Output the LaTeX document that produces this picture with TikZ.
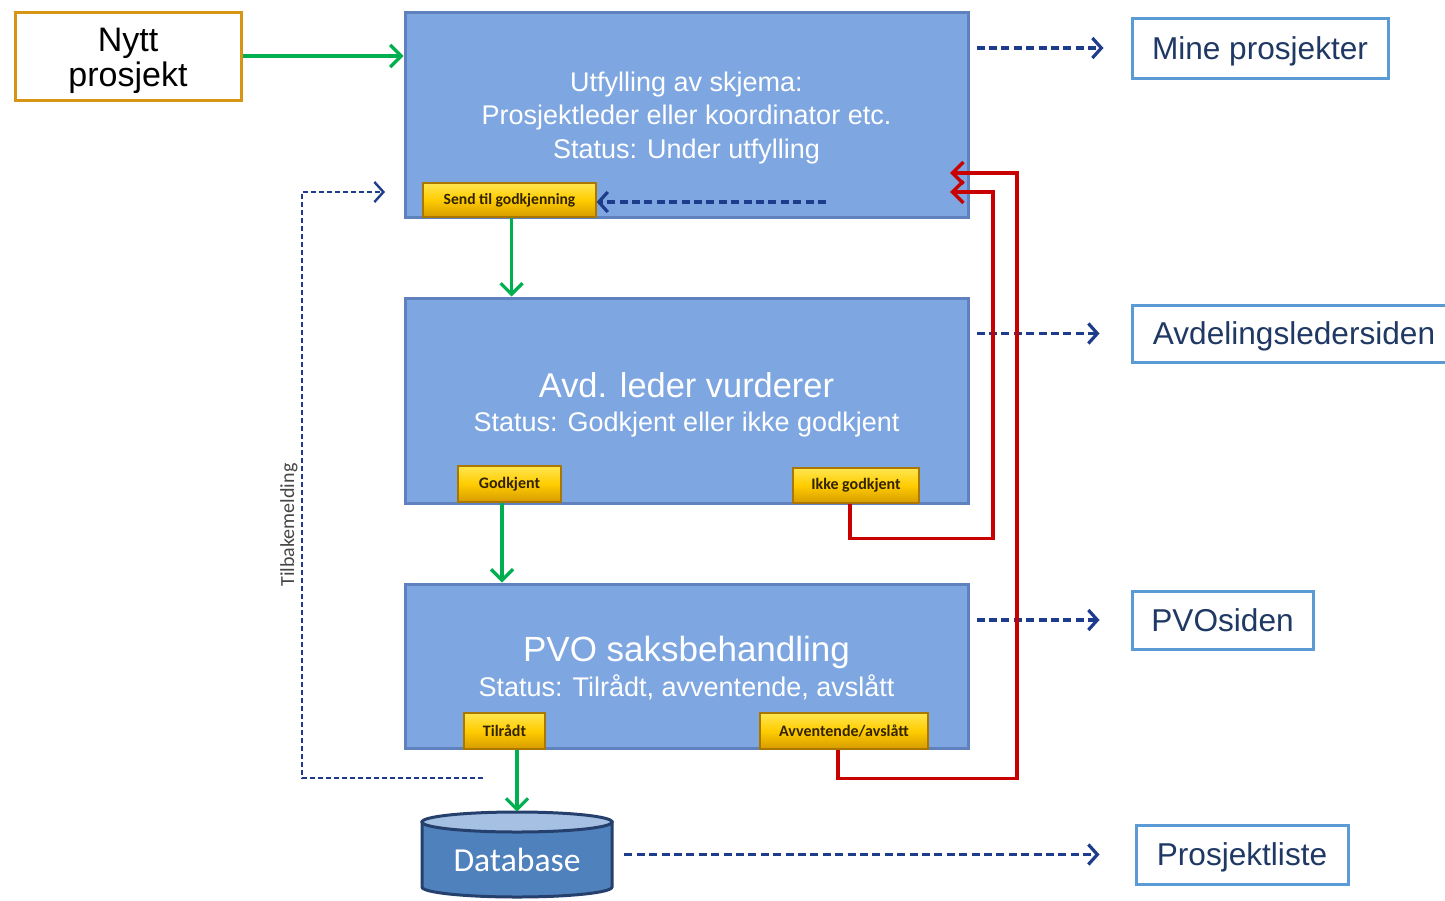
\documentclass[tikz,border=0pt]{standalone}
\usepackage{fontspec}
\setmainfont{Liberation Sans}
\newfontfamily\carlito{Carlito}
\usetikzlibrary{arrows.meta,calc}
\definecolor{boxfill}{RGB}{126,166,224}
\definecolor{boxline}{RGB}{95,130,190}
\definecolor{navy}{RGB}{30,60,140}
\definecolor{rtext}{RGB}{31,56,100}
\definecolor{rline}{RGB}{91,155,213}
\definecolor{orng}{RGB}{214,150,20}
\definecolor{grn}{RGB}{0,176,80}
\definecolor{redd}{RGB}{200,0,0}
\definecolor{dbbody}{RGB}{79,129,189}
\definecolor{dbtop}{RGB}{165,192,226}
\definecolor{dbline}{RGB}{38,64,110}
\definecolor{btop}{RGB}{255,230,80}
\definecolor{bmid}{RGB}{255,204,0}
\definecolor{bbot}{RGB}{215,155,0}
\definecolor{bline}{RGB}{170,120,0}
\definecolor{btext}{RGB}{50,35,0}
\definecolor{tbgray}{RGB}{70,70,70}
\begin{document}
\begin{tikzpicture}[x=0.5pt,y=-0.5pt,
  procbox/.style={draw=boxline, fill=boxfill, line width=1.5pt, inner sep=0pt},
  wt/.style={text=white, inner sep=0pt, anchor=base},
  btn/.style={draw=bline, line width=0.6pt, top color=btop, bottom color=bbot, middle color=bmid,
     text=btext, inner sep=0pt, font=\carlito\bfseries\fontsize{8}{9}\selectfont},
  pagebox/.style={draw=rline, line width=1.5pt, fill=white, text=rtext, inner sep=0pt,
     text depth=0pt, font=\fontsize{15.8}{18}\selectfont},
  garr/.style={draw=grn, line width=1.6pt, -{Straight Barb[length=5.5pt,width=11pt]}},
  darr/.style={draw=navy, line width=1.6pt, dash pattern=on 4pt off 2.2pt, -{Straight Barb[length=4.5pt,width=10pt]}},
  rarr/.style={draw=redd, line width=1.7pt, -{Straight Barb[length=5.5pt,width=11pt]}},
  tbline/.style={draw=navy, line width=1.2pt, dash pattern=on 2.5pt off 1.5pt, -{Straight Barb[length=4.5pt,width=10pt]}}
]
\useasboundingbox (0,0) rectangle (1445,900);
\fill[white] (0,0) rectangle (1445,900);

% Nytt prosjekt
\node[draw=orng, line width=1.5pt, fill=white, minimum width=113pt, minimum height=44pt, inner sep=0pt] (nytt) at (128,56) {};
\node[inner sep=0pt, anchor=base, font=\fontsize{17}{19}\selectfont] (nytt1) at (128,51) {Nytt};
\node[inner sep=0pt, anchor=base, font=\fontsize{17}{19}\selectfont] (nytt2) at (128,86) {prosjekt};

% process boxes
\node[procbox, minimum width=281.5pt, minimum height=102.5pt] (b1) at (686.5,114.5) {};
\node[procbox, minimum width=281.5pt, minimum height=102.5pt] (b2) at (686.5,400.5) {};
\node[procbox, minimum width=281.5pt, minimum height=82pt] (b3) at (686.5,666) {};

\node[wt, font=\fontsize{13.5}{15}\selectfont] (b1a) at (686.5,91) {Utfylling av skjema:};
\node[wt, font=\fontsize{13.5}{15}\selectfont] (b1b) at (686.5,124) {Prosjektleder eller koordinator etc.};
\node[wt, font=\fontsize{13.5}{15}\selectfont] (b1c) at (686.5,158) {Status: Under utfylling};

\node[wt, font=\fontsize{17.2}{19}\selectfont] (b2a) at (686.5,397) {Avd. leder vurderer};
\node[wt, font=\fontsize{13.5}{15}\selectfont] (b2b) at (686.5,431) {Status: Godkjent eller ikke godkjent};

\node[wt, font=\fontsize{17.5}{19}\selectfont] (b3a) at (686.5,661) {PVO saksbehandling};
\node[wt, font=\fontsize{13.5}{15}\selectfont] (b3b) at (686.5,696) {Status: Tilrådt, avventende, avslått};

% buttons
\node[btn, minimum width=86.5pt, minimum height=17pt, font=\carlito\bfseries\fontsize{7.8}{8}\selectfont] (send) at (509.5,200) {Send til godkjenning};
\node[btn, minimum width=51.5pt, minimum height=18pt] (godk) at (509.5,484) {Godkjent};
\node[btn, minimum width=63pt, minimum height=17.5pt] (ikke) at (856,485.5) {Ikke godkjent};
\node[btn, minimum width=40.5pt, minimum height=18pt] (tilr) at (504.5,731) {Tilrådt};
\node[btn, minimum width=84pt, minimum height=18pt] (avv) at (844,731) {Avventende/avslått};

% database
\coordinate (dbc) at (517,855);
\filldraw[fill=dbbody, draw=dbline, line width=1.5pt]
  ([shift={(-47.5pt,16.5pt)}]dbc) -- ([shift={(-47.5pt,-16pt)}]dbc)
  arc[start angle=180, end angle=360, x radius=47.5pt, y radius=5pt]
  -- ([shift={(47.5pt,16.5pt)}]dbc) -- cycle;
\filldraw[fill=dbtop, draw=dbline, line width=1.5pt] ([yshift=16.5pt]dbc) ellipse[x radius=47.5pt, y radius=5pt];
\node[inner sep=0pt, minimum width=95pt, minimum height=42.5pt, text=white, text depth=0pt,
  font=\carlito\fontsize{16.8}{18}\selectfont] (db) at (517,860) {Database};

% page boxes
\node[pagebox, minimum width=128pt, minimum height=30pt] (mp) at (1260,48) {Mine prosjekter};
\node[pagebox, minimum width=162pt, minimum height=28.5pt] (al) at (1294,333.5) {Avdelingsledersiden};
\node[pagebox, minimum width=90.5pt, minimum height=29pt] (pvo) at (1222.5,620) {PVOsiden};
\node[pagebox, minimum width=106pt, minimum height=29.5pt] (pl) at (1242,854.5) {Prosjektliste};

% green flow arrows
\draw[garr] (nytt.east) -- (nytt.east -| b1.west);
\draw[garr] ([xshift=1pt]send.south) -- ([xshift=1pt]send.south |- b2.north);
\draw[garr] ([xshift=-3.75pt]godk.south) -- ([xshift=-3.75pt]godk.south |- b3.north);
\draw[garr] (dbc |- tilr.south) -- ([yshift=2.75pt]dbc |- db.north);

% dashed arrows to pages
\draw[darr] ([xshift=3.5pt]b1.east |- mp.west) -- ([xshift=-13.5pt]mp.west);
\draw[darr] ([xshift=3.5pt]b2.east |- al.west) -- ([xshift=-15.5pt]al.west);
\draw[darr] ([xshift=3.5pt]b3.east |- pvo.west) -- ([xshift=-15.5pt]pvo.west);
\draw[darr] ([xshift=6pt]db.east |- pl.west) -- ([xshift=-17.5pt]pl.west);

% dashed arrow into send button
\coordinate (sd) at (826,202);
\draw[darr] (sd) -- (send.east |- sd);

% Tilbakemelding
\coordinate (tbs) at (483,778);
\coordinate (tbe) at (385,192);
\draw[tbline] (tbs) -- (302,778) -- (302,192) -- (tbe);
\node[rotate=90, inner sep=0pt, text=tbgray, font=\carlito\fontsize{10}{11}\selectfont] (tbl) at (289,525) {Tilbakemelding};

% red return arrows
\coordinate (r1) at (950,192);
\coordinate (r2) at (950,173);
\draw[rarr] ([xshift=-3pt]ikke.south) -- ++(0,35) -| (993,192) -- (r1);
\draw[rarr] ([xshift=-3pt]avv.south) -- ++(0,29) -| (1017,173) -- (r2);
\end{tikzpicture}
\end{document}
